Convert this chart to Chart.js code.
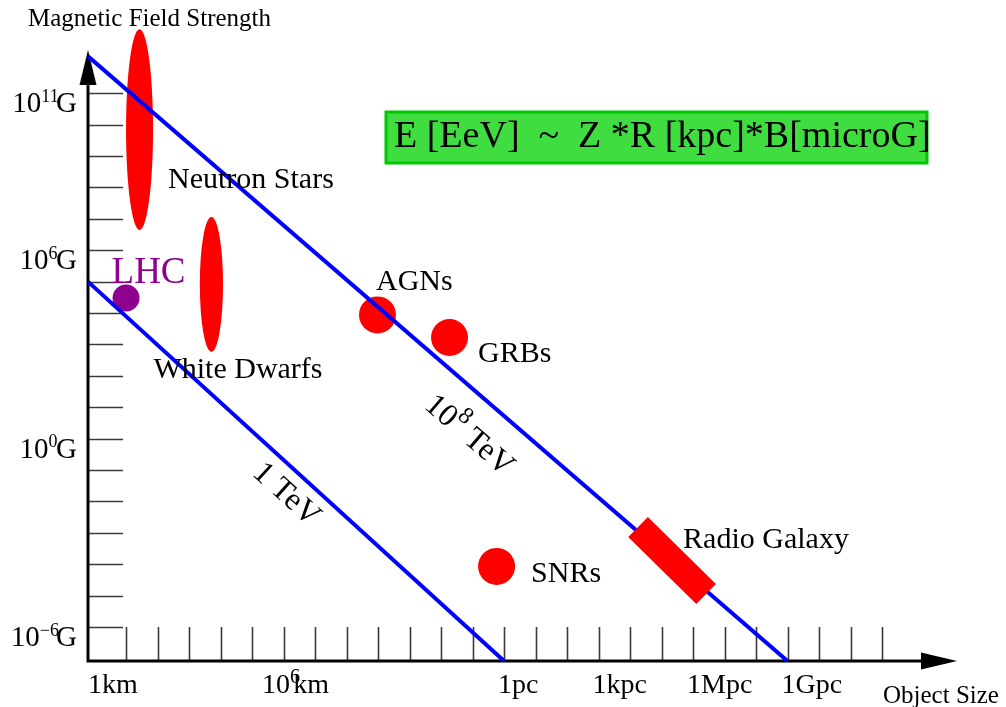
<!DOCTYPE html>
<html>
<head>
<meta charset="utf-8">
<script src="https://cdn.jsdelivr.net/npm/chart.js@4.4.1/dist/chart.umd.min.js"></script>
<style>
  html, body { margin: 0; padding: 0; background: #fff; }
  #wrap { width: 1006px; height: 707px; }
</style>
</head>
<body>
<div id="wrap"><canvas id="hillas"></canvas></div>
<script>
// sizes are in parsec, fields in gauss

const sizeRange = [6.2e-14, 2.4e14];
const fieldRange = [8.26e-8, 2.38e12];

const sizeTicks = [1e-12, 1e-11, 1e-10, 1e-9, 1e-8, 1e-7, 1e-6, 1e-5, 1e-4, 1e-3, 1e-2, 1e-1, 1,
                   1e1, 1e2, 1e3, 1e4, 1e5, 1e6, 1e7, 1e8, 1e9, 1e10, 1e11, 1e12];
const fieldTicks = [1e-6, 1e-5, 1e-4, 1e-3, 1e-2, 1e-1, 1, 1e1, 1e2, 1e3, 1e4, 1e5, 1e6,
                    1e7, 1e8, 1e9, 1e10, 1e11];

// tick captions: leading number, exponent, unit
const sizeLabelValues = [3.24e-14, 3.24e-8, 1, 1e3, 1e6, 1e9];
const sizeLabelBase = ['1', '10', '1', '1', '1', '1'];
const sizeLabelExp = ['', '6', '', '', '', ''];
const sizeLabelUnit = ['km', 'km', 'pc', 'kpc', 'Mpc', 'Gpc'];

const fieldLabelValues = [1e11, 1e6, 1, 1e-6];
const fieldLabelExp = ['11', '6', '0', '\u22126'];

// compact sources
const sourceNames = ['AGNs', 'GRBs', 'SNRs', 'LHC'];
const sourceSize = [9.6e-5, 1.86e-2, 0.58, 1e-12];
const sourceField = [8.7e3, 1.66e3, 8.5e-5, 3e4];

// extended regions (size and field spans)
const regionNames = ['Neutron Stars', 'White Dwarfs'];
const regionSizeLo = [1.0e-12, 2.2e-10];
const regionSizeHi = [7.2e-12, 1.2e-9];
const regionFieldLo = [4.4e6, 5.8e2];
const regionFieldHi = [1.1e13, 1.15e7];

// radio galaxy lobes
const radioSize = [1.8e4, 2.6e6];
const radioField = [1.53e-3, 1.12e-5];

// maximum energy lines
const tevSize = [6.2e-14, 1];
const tevField = [1e5, 8.26e-8];
const eevSize = [6.2e-14, 1e9];
const eevField = [1.5e12, 8.26e-8];

const serif = '"Liberation Serif", "Times New Roman", serif';
const red = '#ff0000';
const purple = '#900090';
const blue = '#0000ff';

const toPoints = (xs, ys) => xs.map((x, i) => ({ x: x, y: ys[i] }));

// offsets of each caption from the centre of its mark
const sourceLabelOffset = [[-1.5, -25], [28.5, 24.5], [34.5, 15.5], [-14.5, -15]];
const regionLabelOffset = [[28.5, 58.5], [-58, 93.5]];

const font = (size) => size + 'px ' + serif;

const drawPowerLabel = (ctx, x, y, base, exp, unit, size, expScale, gapFactor) => {
	ctx.font = font(size);
	const wBase = ctx.measureText(base).width;
	ctx.fillText(base, x, y);
	let ux = x + wBase;
	if (exp) {
		ctx.font = font(size * expScale);
		const wExp = ctx.measureText(exp).width;
		ctx.fillText(exp, x + wBase, y - size * 0.36);
		ux += wExp * gapFactor;
	}
	ctx.font = font(size);
	ctx.fillText(unit, ux, y);
};

const powerLabelWidth = (ctx, base, exp, unit, size, expScale, gapFactor) => {
	ctx.font = font(size);
	let w = ctx.measureText(base).width + ctx.measureText(unit).width;
	if (exp) {
		ctx.font = font(size * expScale);
		w += ctx.measureText(exp).width * gapFactor;
	}
	return w;
};

const hillasDecor = {
	id: 'hillasDecor',
	beforeDatasetsDraw(chart) {
		const { ctx, chartArea: area, scales: { x, y } } = chart;
		ctx.save();

		// source regions as ellipses
		ctx.fillStyle = red;
		regionNames.forEach((name, i) => {
			const x0 = x.getPixelForValue(regionSizeLo[i]), x1 = x.getPixelForValue(regionSizeHi[i]);
			const y0 = y.getPixelForValue(regionFieldLo[i]), y1 = y.getPixelForValue(regionFieldHi[i]);
			ctx.beginPath();
			ctx.ellipse((x0 + x1) / 2, (y0 + y1) / 2, Math.abs(x1 - x0) / 2, Math.abs(y1 - y0) / 2, 0, 0, Math.PI * 2);
			ctx.fill();
		});

		// inward tick marks
		ctx.strokeStyle = '#3a3a3a';
		ctx.lineWidth = 1.6;
		ctx.beginPath();
		sizeTicks.forEach(v => {
			const px = Math.round(x.getPixelForValue(v)) + 0.5;
			ctx.moveTo(px, area.bottom);
			ctx.lineTo(px, area.bottom - 34);
		});
		fieldTicks.forEach(v => {
			const py = Math.round(y.getPixelForValue(v)) + 0.5;
			ctx.moveTo(area.left, py);
			ctx.lineTo(area.left + 35, py);
		});
		ctx.stroke();

		// axes with arrow heads
		ctx.strokeStyle = '#000';
		ctx.fillStyle = '#000';
		ctx.lineWidth = 3;
		ctx.beginPath();
		ctx.moveTo(area.left, area.top + 30);
		ctx.lineTo(area.left, area.bottom);
		ctx.lineTo(area.right - 30, area.bottom);
		ctx.stroke();
		ctx.beginPath();
		ctx.moveTo(area.left, area.top);
		ctx.lineTo(area.left - 8.5, area.top + 35);
		ctx.lineTo(area.left + 8.5, area.top + 35);
		ctx.closePath();
		ctx.fill();
		ctx.beginPath();
		ctx.moveTo(area.right, area.bottom);
		ctx.lineTo(area.right - 36, area.bottom - 8.5);
		ctx.lineTo(area.right - 36, area.bottom + 8.5);
		ctx.closePath();
		ctx.fill();

		ctx.restore();
	},
	afterDatasetsDraw(chart) {
		const { ctx, chartArea: area, scales: { x, y } } = chart;
		ctx.save();
		ctx.fillStyle = '#000';
		ctx.textBaseline = 'alphabetic';
		ctx.textAlign = 'left';

		// axis captions
		ctx.font = font(25);
		ctx.fillText('Magnetic Field Strength', 28, 26);
		ctx.font = font(25);
		ctx.fillText('Object Size', area.right - 74, area.bottom + 42);

		// field tick captions, right aligned against the axis
		fieldLabelValues.forEach((v, i) => {
			const w = powerLabelWidth(ctx, '10', fieldLabelExp[i], 'G', 29, 0.62, 0.85);
			drawPowerLabel(ctx, 77 - w, y.getPixelForValue(v) + 19, '10', fieldLabelExp[i], 'G', 29, 0.62, 0.85);
		});

		// size tick captions
		sizeLabelValues.forEach((v, i) => {
			const px = Math.max(x.getPixelForValue(v) - 6, area.left);
			drawPowerLabel(ctx, px, area.bottom + 32, sizeLabelBase[i], sizeLabelExp[i], sizeLabelUnit[i], 28, 0.72, 0.3);
		});

		// energy line captions, running along each line
		const lineCaption = (xs, ys, t, offset, base, exp, rest) => {
			const x0 = x.getPixelForValue(xs[0]), y0 = y.getPixelForValue(ys[0]);
			const x1 = x.getPixelForValue(xs[1]), y1 = y.getPixelForValue(ys[1]);
			const a = Math.atan2(y1 - y0, x1 - x0);
			const cx = x0 + (x1 - x0) * t - Math.sin(a) * offset;
			const cy = y0 + (y1 - y0) * t + Math.cos(a) * offset;
			ctx.save();
			ctx.translate(cx, cy);
			ctx.rotate(a);
			ctx.textBaseline = 'middle';
			ctx.font = font(32);
			const wBase = ctx.measureText(base).width, wRest = ctx.measureText(rest).width;
			ctx.font = font(24);
			const wExp = exp ? ctx.measureText(exp).width : 0;
			let left = -(wBase + wExp + wRest) / 2;
			ctx.font = font(32);
			ctx.fillText(base, left, 0);
			if (exp) {
				ctx.font = font(24);
				ctx.fillText(exp, left + wBase, -12);
			}
			ctx.font = font(32);
			ctx.fillText(rest, left + wBase + wExp, 0);
			ctx.restore();
		};
		lineCaption(tevSize, tevField, 0.515, 24, '1', '', ' TeV');
		lineCaption(eevSize, eevField, 0.58, 38, '10', '8', ' TeV');

		// source captions
		ctx.font = font(30);
		sourceNames.forEach((name, i) => {
			const px = x.getPixelForValue(sourceSize[i]) + sourceLabelOffset[i][0];
			const py = y.getPixelForValue(sourceField[i]) + sourceLabelOffset[i][1];
			if (name === 'LHC') {
				ctx.fillStyle = purple;
				ctx.font = font(37);
			}
			ctx.fillText(name, px, py);
			ctx.fillStyle = '#000';
			ctx.font = font(30);
		});
		regionNames.forEach((name, i) => {
			const cx = (x.getPixelForValue(regionSizeLo[i]) + x.getPixelForValue(regionSizeHi[i])) / 2;
			const cy = (y.getPixelForValue(regionFieldLo[i]) + y.getPixelForValue(regionFieldHi[i])) / 2;
			ctx.fillText(name, cx + regionLabelOffset[i][0], cy + regionLabelOffset[i][1]);
		});
		const rgx = (x.getPixelForValue(radioSize[0]) + x.getPixelForValue(radioSize[1])) / 2;
		const rgy = (y.getPixelForValue(radioField[0]) + y.getPixelForValue(radioField[1])) / 2;
		ctx.fillText('Radio Galaxy', rgx + 11, rgy - 12.5);

		// Hillas condition box
		ctx.fillStyle = '#40dd40';
		ctx.fillRect(386, 112, 541, 51);
		ctx.strokeStyle = '#00c800';
		ctx.lineWidth = 3;
		ctx.strokeRect(386, 112, 541, 51);
		ctx.fillStyle = '#000';
		ctx.font = font(38);
		ctx.fillText('E [EeV]  ~  Z *R [kpc]*B[microG]', 394, 147);

		ctx.restore();
	}
};

new Chart(document.getElementById('hillas'), {
	type: 'scatter',
	data: {
		datasets: [
			{
				data: toPoints(radioSize, radioField),
				showLine: true,
				borderColor: red,
				borderWidth: 28,
				borderCapStyle: 'butt',
				pointRadius: 0,
				order: 0
			},
			{
				data: toPoints(tevSize, tevField),
				showLine: true,
				borderColor: blue,
				borderWidth: 4,
				pointRadius: 0,
				order: 1
			},
			{
				data: toPoints(eevSize, eevField),
				showLine: true,
				borderColor: blue,
				borderWidth: 4,
				pointRadius: 0,
				order: 1
			},
			{
				data: toPoints(sourceSize.slice(0, 3), sourceField.slice(0, 3)),
				backgroundColor: red,
				borderWidth: 0,
				pointRadius: 18.5,
				order: 2
			},
			{
				data: toPoints(sourceSize.slice(3), sourceField.slice(3)),
				backgroundColor: purple,
				borderWidth: 0,
				pointRadius: 13.5,
				order: 2
			}
		]
	},
	options: {
		responsive: true,
		maintainAspectRatio: false,
		animation: false,
		events: [],
		layout: { padding: { left: 88, right: 49, top: 50, bottom: 46 } },
		scales: {
			x: { type: 'logarithmic', min: sizeRange[0], max: sizeRange[1], display: false },
			y: { type: 'logarithmic', min: fieldRange[0], max: fieldRange[1], display: false }
		},
		plugins: {
			legend: { display: false },
			tooltip: { enabled: false }
		}
	},
	plugins: [hillasDecor]
});
</script>
</body>
</html>
